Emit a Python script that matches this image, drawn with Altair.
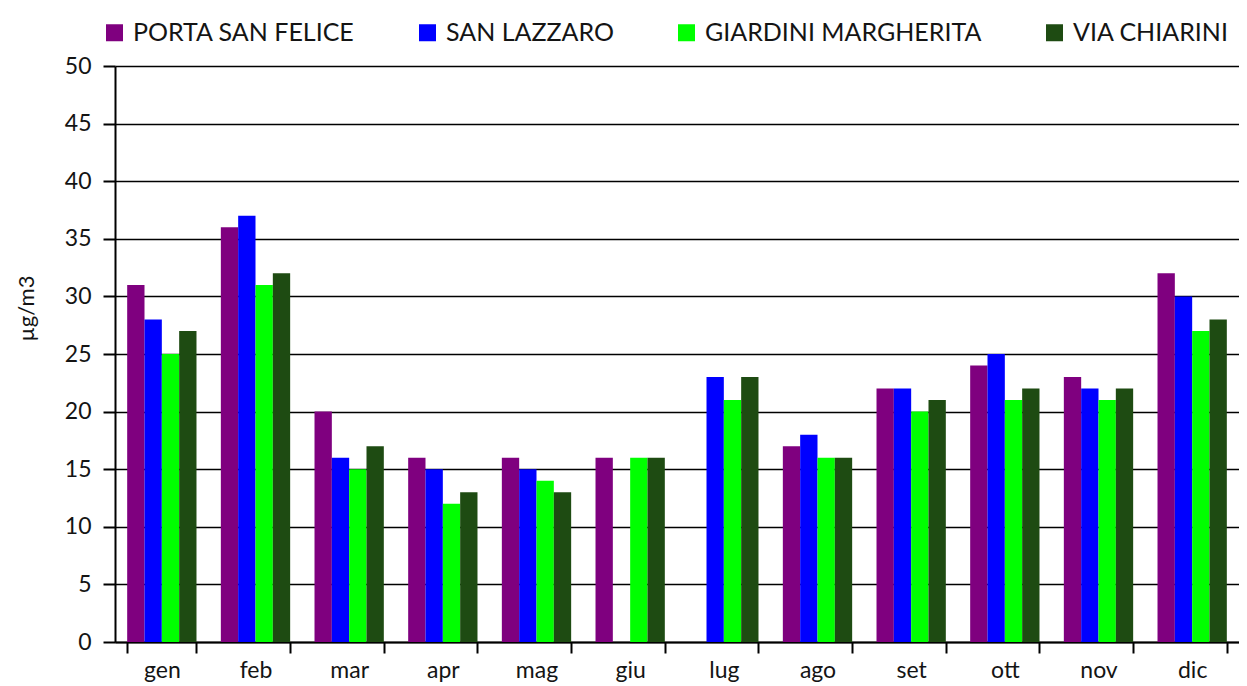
import altair as alt
import pandas as pd

months = ["gen", "feb", "mar", "apr", "mag", "giu", "lug", "ago", "set", "ott", "nov", "dic"]
series = ["PORTA SAN FELICE", "SAN LAZZARO", "GIARDINI MARGHERITA", "VIA CHIARINI"]
colors = ["#7f007f", "#0000ff", "#00ff00", "#1e4b12"]

porta_san_felice = [31, 36, 20, 16, 16, 16, None, 17, 22, 24, 23, 32]
san_lazzaro = [28, 37, 16, 15, 15, None, 23, 18, 22, 25, 22, 30]
giardini_margherita = [25, 31, 15, 12, 14, 16, 21, 16, 20, 21, 21, 27]
via_chiarini = [27, 32, 17, 13, 13, 16, 23, 16, 21, 22, 22, 28]

values = [porta_san_felice, san_lazzaro, giardini_margherita, via_chiarini]
rows = []
for s, vals in zip(series, values):
    for m, v in zip(months, vals):
        if v is not None:
            rows.append({"mese": m, "stazione": s, "valore": v})
df = pd.DataFrame(rows)

FONT = "Lato"
TXT = "#141414"

chart = alt.Chart(df).mark_bar().encode(
    x=alt.X("mese:N", sort=months,
            scale=alt.Scale(domain=months, paddingInner=0.26, paddingOuter=0.13),
            axis=alt.Axis(title=None, labelAngle=0, tickBand="extent", tickSize=11,
                          tickColor="black", tickWidth=2, domainColor="black", domainWidth=2,
                          labelFontSize=23, labelFont=FONT, labelColor=TXT,
                          labelPadding=6, grid=False)),
    xOffset=alt.XOffset("stazione:N", sort=series, scale=alt.Scale(domain=series)),
    y=alt.Y("valore:Q",
            scale=alt.Scale(domain=[0, 50], nice=False),
            axis=alt.Axis(title="µg/m3", values=list(range(0, 51, 5)), tickSize=12,
                          tickColor="black", tickWidth=2, domainColor="black", domainWidth=2,
                          gridColor="black", gridWidth=1.5, grid=True,
                          labelFontSize=23, labelFont=FONT, labelColor=TXT,
                          labelPadding=12, titleFont=FONT, titleFontSize=22,
                          titleFontWeight="normal", titleColor=TXT,
                          titleAngle=270, titleX=-89, titleY=242, titleAlign="center",
                          titleBaseline="middle")),
    color=alt.Color("stazione:N", sort=series,
                    scale=alt.Scale(domain=series, range=colors),
                    legend=alt.Legend(title=None, orient="none", legendX=-13, legendY=-46,
                                      direction="horizontal", columns=4,
                                      symbolType="square", symbolSize=289,
                                      symbolStrokeWidth=0, labelFont=FONT,
                                      labelFontSize=25, labelColor=TXT,
                                      labelOffset=6, columnPadding=60,
                                      labelLimit=400)),
).properties(
    width=1124, height=576,
    autosize=alt.AutoSizeParams(type="none"),
    padding={"left": 107, "top": 58, "right": 0, "bottom": 40},
).configure_view(stroke=None).configure(background="white")

chart.save("out.html", embed_options={"renderer": "svg", "actions": False})
